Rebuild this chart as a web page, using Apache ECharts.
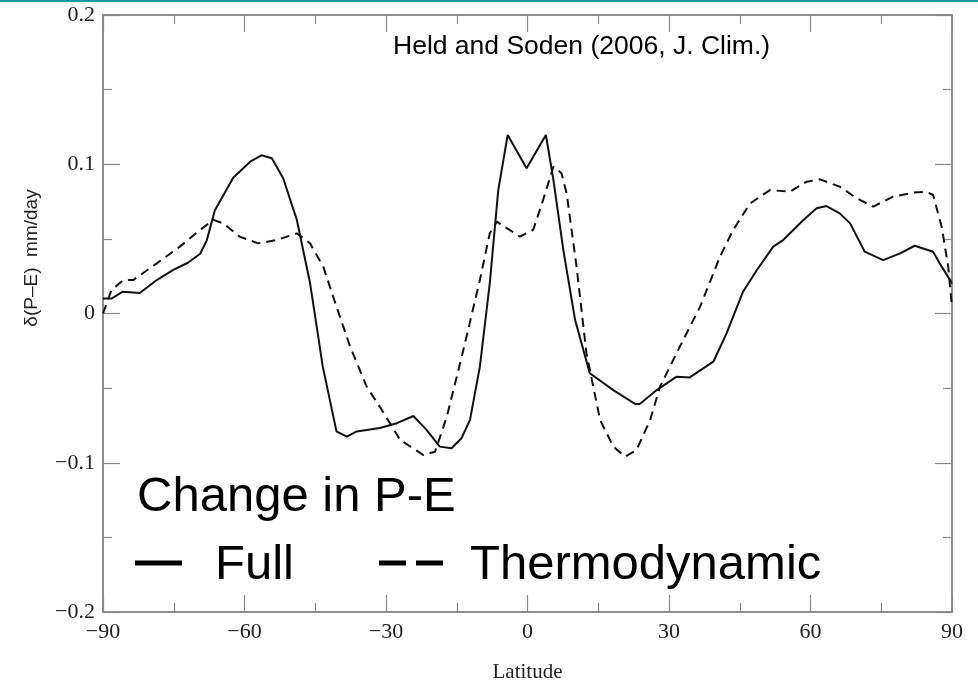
<!DOCTYPE html>
<html><head><meta charset="utf-8">
<script src="https://cdn.jsdelivr.net/npm/echarts@6/dist/echarts.min.js"></script>
<style>html,body{margin:0;padding:0;background:#fff}#c{width:978px;height:695px}</style>
</head><body><div id="c"></div>
<script>
// Latitude ticks and value ticks
const xTicks = [-90, -60, -30, 0, 30, 60, 90];
const yTicks = [-0.2, -0.1, 0, 0.1, 0.2];

// Full change in P-E (solid)
const fullLat = [-90,-88.2,-85.8,-82.2,-78.6,-75.2,-72.0,-69.4,-68.0,-66.3,-62.4,-58.8,-56.4,-54.2,-51.8,-48.9,-46.1,-43.4,-40.5,-38.3,-36.2,-31.3,-27.7,-24.2,-21.4,-18.6,-16.1,-14.0,-12.2,-10.1,-8.0,-6.2,-4.2,-0.2,3.9,5.5,7.6,10.1,13.2,18.2,22.8,23.8,27.4,31.6,34.4,39.4,42.2,45.7,48.6,52.1,54.2,58.5,61.3,63.4,66.2,68.4,71.5,75.4,79.0,82.1,86.0,87.8,89.6,90];
const fullVal = [0.010,0.010,0.0146,0.0137,0.0224,0.029,0.034,0.040,0.049,0.069,0.091,0.1017,0.106,0.104,0.0906,0.0627,0.0204,-0.0356,-0.079,-0.0825,-0.079,-0.0767,-0.0735,-0.0687,-0.078,-0.0892,-0.0903,-0.0836,-0.0714,-0.0356,0.0202,0.0827,0.1196,0.0973,0.1196,0.0894,0.0425,-0.0044,-0.040,-0.0513,-0.0606,-0.0606,-0.0513,-0.0423,-0.0428,-0.0323,-0.0133,0.0146,0.029,0.0448,0.0492,0.0627,0.0705,0.072,0.0671,0.0604,0.0414,0.0358,0.0403,0.0454,0.0414,0.0314,0.0224,0.020];

// Thermodynamic component (dashed)
const thermoLat = [-90,-88.2,-85.7,-83.6,-78.6,-73.7,-69.4,-66.6,-64.5,-61.0,-57.1,-53.2,-48.9,-46.1,-43.3,-40.5,-37.6,-34.1,-31.0,-27.0,-22.1,-19.6,-17.1,-13.6,-10.1,-8.0,-6.5,-1.6,1.2,3.3,5.5,7.2,8.3,10.4,12.5,15.4,18.2,20.7,23.1,26.0,28.1,32.3,36.6,40.8,43.6,47.2,51.4,55.6,59.2,62.0,66.2,69.8,73.3,77.5,81.8,84.6,86.0,87.8,89.2,90];
const thermoVal = [0.0,0.0157,0.0224,0.0224,0.0336,0.0448,0.056,0.0627,0.0604,0.0515,0.047,0.0492,0.0537,0.047,0.0314,0.0046,-0.0222,-0.049,-0.064,-0.0847,-0.0948,-0.0926,-0.0691,-0.0245,0.0224,0.0537,0.0615,0.0515,0.056,0.076,0.0984,0.094,0.0805,0.0314,-0.0267,-0.0714,-0.0892,-0.0959,-0.0915,-0.0714,-0.0490,-0.0222,0.0046,0.038,0.056,0.0738,0.0827,0.0816,0.0883,0.0899,0.085,0.0772,0.0716,0.0783,0.081,0.0816,0.0794,0.0582,0.0314,0.004];

const zip = (a, b) => a.map((v, i) => [v, b[i]]);
const fmt = v => (Math.abs(v) < 1e-9 ? '0' : String(+v.toFixed(2)).replace('-', '\u2212'));

const axisGray = '#6a6a6a';
const serif = '"Liberation Serif", "DejaVu Serif", serif';
const sans = '"Liberation Sans", Arial, sans-serif';

function xAxisDef(pos, showLabel) {
  return {
    type: 'value', position: pos, min: xTicks[0], max: xTicks[xTicks.length - 1],
    interval: xTicks[1] - xTicks[0],
    axisLine: { show: true, onZero: false, lineStyle: { color: axisGray, width: 1.5 } },
    axisTick: { show: true, inside: true, length: 17, lineStyle: { color: '#888', width: 1.2 } },
    minorTick: { show: true, splitNumber: 2, length: 9, lineStyle: { color: '#888', width: 1.2 } },
    splitLine: { show: false },
    axisLabel: { show: showLabel, formatter: fmt, color: '#222', fontFamily: serif, fontSize: 22, margin: 9 },
    name: showLabel ? 'Latitude' : '', nameLocation: 'middle', nameGap: 50,
    nameTextStyle: { color: '#222', fontFamily: serif, fontSize: 21 }
  };
}
function yAxisDef(pos, showLabel) {
  return {
    type: 'value', position: pos, min: yTicks[0], max: yTicks[yTicks.length - 1],
    interval: 0.1,
    axisLine: { show: true, onZero: false, lineStyle: { color: axisGray, width: 1.5 } },
    axisTick: { show: true, inside: true, length: 17, lineStyle: { color: '#888', width: 1.2 } },
    minorTick: { show: true, splitNumber: 2, length: 9, lineStyle: { color: '#888', width: 1.2 } },
    splitLine: { show: false },
    axisLabel: { show: showLabel, formatter: fmt, color: '#222', fontFamily: serif, fontSize: 22, margin: 8 }
  };
}

const chart = echarts.init(document.getElementById('c'), null, { renderer: 'canvas' });
chart.setOption({
  backgroundColor: '#fff',
  animation: false,
  grid: { left: 103, right: 26, top: 15, bottom: 83 },
  xAxis: [xAxisDef('bottom', true), xAxisDef('top', false)],
  yAxis: [yAxisDef('left', true), yAxisDef('right', false)],
  series: [
    { name: 'Full', type: 'line', xAxisIndex: 0, yAxisIndex: 0, data: zip(fullLat, fullVal),
      symbol: 'none', smooth: false, lineStyle: { color: '#111', width: 2 } },
    { name: 'Thermodynamic', type: 'line', xAxisIndex: 0, yAxisIndex: 0, data: zip(thermoLat, thermoVal),
      symbol: 'none', smooth: false, lineStyle: { color: '#111', width: 2, type: [9, 6] } }
  ],
  graphic: [
    { type: 'rect', shape: { x: 0, y: 0, width: 978, height: 2 }, style: { fill: '#119c9c' } },
    { type: 'text', x: 32, y: 258, rotation: Math.PI / 2,
      style: { text: 'δ(P–E)  mm/day', fontFamily: sans, fontSize: 19, fill: '#222', align: 'center', verticalAlign: 'middle' } },
    { type: 'text', x: 393, y: 47,
      style: { text: 'Held and Soden (2006, J. Clim.)', fontFamily: sans, fontSize: 26.5, fill: '#000', align: 'left', verticalAlign: 'middle' } },
    { type: 'text', x: 137, y: 497,
      style: { text: 'Change in P-E', fontFamily: sans, fontSize: 49, fill: '#000', align: 'left', verticalAlign: 'middle' } },
    { type: 'line', shape: { x1: 135, y1: 563, x2: 182, y2: 563 }, style: { stroke: '#000', lineWidth: 5 } },
    { type: 'text', x: 215, y: 565,
      style: { text: 'Full', fontFamily: sans, fontSize: 49, fill: '#000', align: 'left', verticalAlign: 'middle' } },
    { type: 'line', shape: { x1: 379, y1: 563, x2: 443, y2: 563 }, style: { stroke: '#000', lineWidth: 5, lineDash: [27, 10] } },
    { type: 'text', x: 470, y: 565,
      style: { text: 'Thermodynamic', fontFamily: sans, fontSize: 49, fill: '#000', align: 'left', verticalAlign: 'middle' } }
  ]
});
</script></body></html>
